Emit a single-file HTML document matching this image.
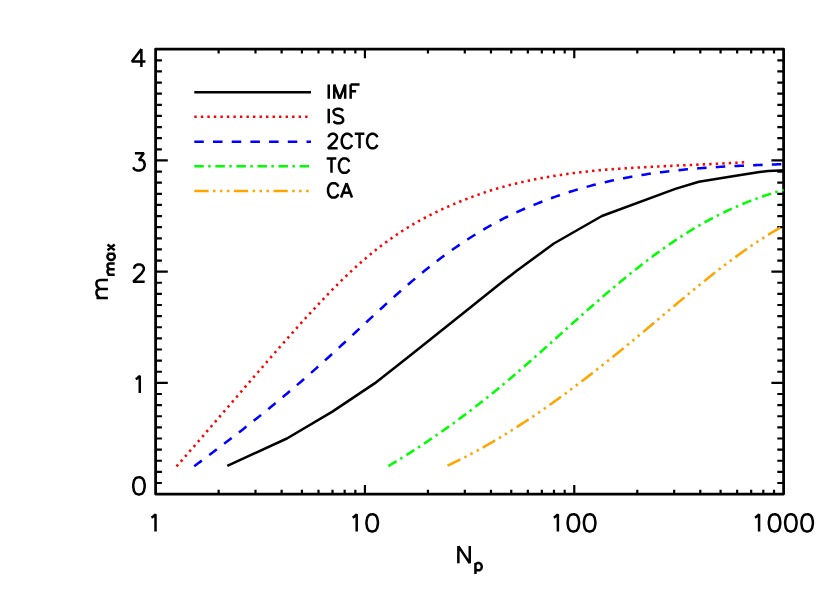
<!DOCTYPE html>
<html><head><meta charset="utf-8"><title>m_max vs N_p</title>
<style>html,body{margin:0;padding:0;background:#fff;}body{width:830px;height:593px;overflow:hidden;font-family:"Liberation Sans",sans-serif;}svg{display:block}</style>
</head><body>
<svg width="830" height="593" viewBox="0 0 830 593">
<rect x="0" y="0" width="830" height="593" fill="#ffffff"/>
<path d="M218.62 494.10V489.70M218.62 49.20V53.60M255.48 494.10V489.70M255.48 49.20V53.60M281.63 494.10V489.70M281.63 49.20V53.60M301.92 494.10V489.70M301.92 49.20V53.60M318.49 494.10V489.70M318.49 49.20V53.60M332.51 494.10V489.70M332.51 49.20V53.60M344.65 494.10V489.70M344.65 49.20V53.60M355.35 494.10V489.70M355.35 49.20V53.60M364.93 494.10V485.10M364.93 49.20V58.20M427.95 494.10V489.70M427.95 49.20V53.60M464.81 494.10V489.70M464.81 49.20V53.60M490.96 494.10V489.70M490.96 49.20V53.60M511.25 494.10V489.70M511.25 49.20V53.60M527.83 494.10V489.70M527.83 49.20V53.60M541.84 494.10V489.70M541.84 49.20V53.60M553.98 494.10V489.70M553.98 49.20V53.60M564.69 494.10V489.70M564.69 49.20V53.60M574.27 494.10V485.10M574.27 49.20V58.20M637.28 494.10V489.70M637.28 49.20V53.60M674.14 494.10V489.70M674.14 49.20V53.60M700.30 494.10V489.70M700.30 49.20V53.60M720.58 494.10V489.70M720.58 49.20V53.60M737.16 494.10V489.70M737.16 49.20V53.60M751.17 494.10V489.70M751.17 49.20V53.60M763.31 494.10V489.70M763.31 49.20V53.60M774.02 494.10V489.70M774.02 49.20V53.60M155.60 482.98H161.90M783.60 482.98H777.30M155.60 471.86H161.90M783.60 471.86H777.30M155.60 460.73H161.90M783.60 460.73H777.30M155.60 449.61H161.90M783.60 449.61H777.30M155.60 438.49H161.90M783.60 438.49H777.30M155.60 427.37H161.90M783.60 427.37H777.30M155.60 416.24H161.90M783.60 416.24H777.30M155.60 405.12H161.90M783.60 405.12H777.30M155.60 394.00H161.90M783.60 394.00H777.30M155.60 382.88H167.80M783.60 382.88H771.40M155.60 371.75H161.90M783.60 371.75H777.30M155.60 360.63H161.90M783.60 360.63H777.30M155.60 349.51H161.90M783.60 349.51H777.30M155.60 338.38H161.90M783.60 338.38H777.30M155.60 327.26H161.90M783.60 327.26H777.30M155.60 316.14H161.90M783.60 316.14H777.30M155.60 305.02H161.90M783.60 305.02H777.30M155.60 293.89H161.90M783.60 293.89H777.30M155.60 282.77H161.90M783.60 282.77H777.30M155.60 271.65H167.80M783.60 271.65H771.40M155.60 260.53H161.90M783.60 260.53H777.30M155.60 249.40H161.90M783.60 249.40H777.30M155.60 238.28H161.90M783.60 238.28H777.30M155.60 227.16H161.90M783.60 227.16H777.30M155.60 216.04H161.90M783.60 216.04H777.30M155.60 204.91H161.90M783.60 204.91H777.30M155.60 193.79H161.90M783.60 193.79H777.30M155.60 182.67H161.90M783.60 182.67H777.30M155.60 171.55H161.90M783.60 171.55H777.30M155.60 160.43H167.80M783.60 160.43H771.40M155.60 149.30H161.90M783.60 149.30H777.30M155.60 138.18H161.90M783.60 138.18H777.30M155.60 127.06H161.90M783.60 127.06H777.30M155.60 115.94H161.90M783.60 115.94H777.30M155.60 104.81H161.90M783.60 104.81H777.30M155.60 93.69H161.90M783.60 93.69H777.30M155.60 82.57H161.90M783.60 82.57H777.30M155.60 71.44H161.90M783.60 71.44H777.30M155.60 60.32H161.90M783.60 60.32H777.30" fill="none" stroke="#000" stroke-width="2.2" stroke-linecap="butt"/>
<rect x="155.6" y="49.2" width="628.00" height="444.90" fill="none" stroke="#000" stroke-width="2.75" stroke-linejoin="round"/>
<path d="M227.30 465.80L286.90 438.50L332.40 411.60L374.60 383.40L405.10 359.50L433.70 336.70L467.50 309.80L501.20 282.80L516.40 271.00L553.90 243.50L601.90 216.00L675.30 188.90L698.90 181.70L734.30 175.90L759.60 172.00L768.10 170.90L779.90 170.40L783.60 170.30" fill="none" stroke="#000" stroke-width="2.55" stroke-linejoin="round" stroke-linecap="butt"/>
<path d="M176.50 466.45L178.40 464.28L180.31 462.10L182.21 459.93L184.11 457.75L186.02 455.57L187.92 453.38L189.82 451.20L191.73 449.01L193.63 446.81L195.53 444.62L197.44 442.42L199.34 440.22L201.24 438.02L203.15 435.82L205.05 433.61L206.95 431.41L208.86 429.20L210.76 426.99L212.66 424.78L214.57 422.57L216.47 420.36L218.37 418.14L220.28 415.93L222.18 413.72L224.08 411.50L225.99 409.29L227.89 407.07L229.79 404.86L231.70 402.64L233.60 400.42L235.50 398.21L237.41 396.00L239.31 393.78L241.21 391.57L243.12 389.36L245.02 387.15L246.92 384.94L248.83 382.73L250.73 380.52L252.63 378.32L254.54 376.11L256.44 373.91L258.34 371.71L260.25 369.51L262.15 367.32L264.05 365.12L265.96 362.93L267.86 360.74L269.76 358.56L271.67 356.38L273.57 354.20L275.47 352.02L277.38 349.85L279.28 347.68L281.18 345.51L283.09 343.35L284.99 341.19L286.89 339.03L288.80 336.88L290.70 334.73L292.60 332.59L294.51 330.45L296.41 328.32L298.31 326.19L300.22 324.07L302.12 321.96L304.02 319.86L305.93 317.76L307.83 315.67L309.73 313.59L311.64 311.51L313.54 309.45L315.44 307.40L317.35 305.36L319.25 303.33L321.15 301.30L323.06 299.30L324.96 297.30L326.86 295.31L328.77 293.34L330.67 291.39L332.57 289.44L334.48 287.51L336.38 285.60L338.28 283.70L340.19 281.81L342.09 279.94L343.99 278.09L345.90 276.26L347.80 274.44L349.70 272.64L351.61 270.86L353.51 269.10L355.41 267.35L357.32 265.63L359.22 263.92L361.12 262.24L363.03 260.58L364.93 258.94L366.83 257.32L368.74 255.72L370.64 254.14L372.54 252.59L374.45 251.05L376.35 249.54L378.25 248.05L380.16 246.58L382.06 245.14L383.96 243.71L385.87 242.30L387.77 240.92L389.67 239.55L391.58 238.20L393.48 236.88L395.38 235.57L397.29 234.29L399.19 233.02L401.09 231.77L403.00 230.55L404.90 229.34L406.80 228.15L408.71 226.98L410.61 225.82L412.51 224.69L414.42 223.58L416.32 222.48L418.22 221.40L420.13 220.34L422.03 219.29L423.93 218.26L425.84 217.25L427.74 216.26L429.64 215.28L431.55 214.32L433.45 213.37L435.35 212.44L437.26 211.53L439.16 210.62L441.06 209.74L442.97 208.86L444.87 208.00L446.77 207.16L448.68 206.32L450.58 205.50L452.48 204.69L454.39 203.89L456.29 203.10L458.19 202.32L460.10 201.55L462.00 200.79L463.91 200.03L465.81 199.29L467.71 198.56L469.62 197.83L471.52 197.12L473.42 196.41L475.33 195.72L477.23 195.03L479.13 194.36L481.04 193.70L482.94 193.04L484.84 192.40L486.75 191.77L488.65 191.15L490.55 190.54L492.46 189.95L494.36 189.36L496.26 188.79L498.17 188.23L500.07 187.68L501.97 187.14L503.88 186.61L505.78 186.09L507.68 185.58L509.59 185.09L511.49 184.60L513.39 184.12L515.30 183.65L517.20 183.20L519.10 182.75L521.01 182.31L522.91 181.88L524.81 181.46L526.72 181.04L528.62 180.64L530.52 180.24L532.43 179.86L534.33 179.48L536.23 179.10L538.14 178.74L540.04 178.38L541.94 178.03L543.85 177.69L545.75 177.35L547.65 177.03L549.56 176.70L551.46 176.39L553.36 176.08L555.27 175.77L557.17 175.47L559.07 175.18L560.98 174.89L562.88 174.61L564.78 174.34L566.69 174.07L568.59 173.80L570.49 173.54L572.40 173.28L574.30 173.03L576.20 172.79L578.11 172.55L580.01 172.32L581.91 172.09L583.82 171.87L585.72 171.65L587.62 171.44L589.53 171.23L591.43 171.03L593.33 170.84L595.24 170.65L597.14 170.47L599.04 170.29L600.95 170.12L602.85 169.95L604.75 169.79L606.66 169.64L608.56 169.49L610.46 169.35L612.37 169.20L614.27 169.07L616.17 168.93L618.08 168.80L619.98 168.67L621.88 168.55L623.79 168.42L625.69 168.30L627.59 168.18L629.50 168.07L631.40 167.95L633.30 167.84L635.21 167.72L637.11 167.61L639.01 167.51L640.92 167.40L642.82 167.29L644.72 167.19L646.63 167.09L648.53 166.99L650.43 166.89L652.34 166.79L654.24 166.69L656.14 166.60L658.05 166.50L659.95 166.41L661.85 166.31L663.76 166.22L665.66 166.13L667.56 166.04L669.47 165.95L671.37 165.86L673.27 165.77L675.18 165.68L677.08 165.60L678.98 165.51L680.89 165.42L682.79 165.34L684.69 165.25L686.60 165.16L688.50 165.08L690.40 164.99L692.31 164.90L694.21 164.82L696.11 164.73L698.02 164.64L699.92 164.56L701.82 164.47L703.73 164.38L705.63 164.29L707.53 164.20L709.44 164.11L711.34 164.02L713.24 163.93L715.15 163.84L717.05 163.75L718.95 163.66L720.86 163.56L722.76 163.47L724.66 163.37L726.57 163.27L728.47 163.17L730.37 163.07L732.28 162.97L734.18 162.87L736.08 162.76L737.99 162.66L739.89 162.55L741.79 162.44L743.70 162.33L745.60 162.22" fill="none" stroke="#ff0000" stroke-width="2.55" stroke-linejoin="round" stroke-linecap="butt" stroke-dasharray="2.4 4.12"/>
<path d="M194.20 466.23L196.17 464.78L198.14 463.33L200.11 461.87L202.08 460.41L204.06 458.95L206.03 457.48L208.00 456.01L209.97 454.53L211.94 453.06L213.91 451.58L215.88 450.09L217.85 448.60L219.83 447.11L221.80 445.61L223.77 444.11L225.74 442.61L227.71 441.10L229.68 439.59L231.65 438.07L233.62 436.55L235.60 435.02L237.57 433.49L239.54 431.96L241.51 430.42L243.48 428.88L245.45 427.33L247.42 425.78L249.39 424.22L251.37 422.66L253.34 421.10L255.31 419.52L257.28 417.95L259.25 416.37L261.22 414.78L263.19 413.19L265.16 411.59L267.14 409.99L269.11 408.39L271.08 406.77L273.05 405.16L275.02 403.53L276.99 401.91L278.96 400.27L280.93 398.63L282.91 396.99L284.88 395.34L286.85 393.68L288.82 392.02L290.79 390.35L292.76 388.68L294.73 387.00L296.70 385.31L298.68 383.62L300.65 381.92L302.62 380.22L304.59 378.51L306.56 376.79L308.53 375.07L310.50 373.34L312.47 371.60L314.45 369.86L316.42 368.11L318.39 366.35L320.36 364.59L322.33 362.82L324.30 361.04L326.27 359.26L328.24 357.47L330.22 355.68L332.19 353.87L334.16 352.07L336.13 350.26L338.10 348.44L340.07 346.62L342.04 344.80L344.01 342.97L345.99 341.14L347.96 339.31L349.93 337.48L351.90 335.64L353.87 333.81L355.84 331.97L357.81 330.14L359.78 328.30L361.76 326.46L363.73 324.63L365.70 322.80L367.67 320.97L369.64 319.14L371.61 317.31L373.58 315.49L375.55 313.67L377.53 311.86L379.50 310.05L381.47 308.25L383.44 306.45L385.41 304.65L387.38 302.87L389.35 301.09L391.32 299.31L393.29 297.55L395.27 295.79L397.24 294.04L399.21 292.30L401.18 290.56L403.15 288.84L405.12 287.13L407.09 285.42L409.06 283.73L411.04 282.05L413.01 280.38L414.98 278.72L416.95 277.07L418.92 275.43L420.89 273.81L422.86 272.20L424.83 270.60L426.81 269.02L428.78 267.45L430.75 265.89L432.72 264.35L434.69 262.82L436.66 261.30L438.63 259.80L440.60 258.32L442.58 256.85L444.55 255.39L446.52 253.95L448.49 252.52L450.46 251.10L452.43 249.70L454.40 248.32L456.37 246.94L458.35 245.59L460.32 244.24L462.29 242.92L464.26 241.60L466.23 240.31L468.20 239.02L470.17 237.75L472.14 236.50L474.12 235.26L476.09 234.04L478.06 232.83L480.03 231.63L482.00 230.45L483.97 229.29L485.94 228.14L487.91 227.01L489.89 225.89L491.86 224.79L493.83 223.70L495.80 222.63L497.77 221.57L499.74 220.53L501.71 219.50L503.68 218.49L505.66 217.50L507.63 216.52L509.60 215.56L511.57 214.61L513.54 213.68L515.51 212.76L517.48 211.86L519.45 210.98L521.43 210.11L523.40 209.25L525.37 208.41L527.34 207.58L529.31 206.75L531.28 205.94L533.25 205.14L535.22 204.35L537.20 203.56L539.17 202.78L541.14 202.01L543.11 201.25L545.08 200.50L547.05 199.75L549.02 199.01L550.99 198.29L552.97 197.57L554.94 196.86L556.91 196.16L558.88 195.48L560.85 194.80L562.82 194.14L564.79 193.48L566.76 192.84L568.74 192.20L570.71 191.57L572.68 190.96L574.65 190.35L576.62 189.76L578.59 189.17L580.56 188.60L582.53 188.03L584.51 187.47L586.48 186.92L588.45 186.38L590.42 185.86L592.39 185.33L594.36 184.82L596.33 184.32L598.30 183.83L600.27 183.34L602.25 182.86L604.22 182.40L606.19 181.94L608.16 181.49L610.13 181.04L612.10 180.61L614.07 180.18L616.04 179.76L618.02 179.35L619.99 178.95L621.96 178.55L623.93 178.17L625.90 177.79L627.87 177.42L629.84 177.05L631.81 176.70L633.79 176.35L635.76 176.00L637.73 175.67L639.70 175.34L641.67 175.02L643.64 174.70L645.61 174.40L647.58 174.09L649.56 173.80L651.53 173.51L653.50 173.23L655.47 172.96L657.44 172.69L659.41 172.42L661.38 172.17L663.35 171.92L665.33 171.67L667.30 171.43L669.27 171.20L671.24 170.97L673.21 170.75L675.18 170.53L677.15 170.32L679.12 170.11L681.10 169.91L683.07 169.71L685.04 169.52L687.01 169.34L688.98 169.15L690.95 168.98L692.92 168.80L694.89 168.64L696.87 168.47L698.84 168.31L700.81 168.16L702.78 168.00L704.75 167.86L706.72 167.71L708.69 167.57L710.66 167.44L712.64 167.31L714.61 167.18L716.58 167.05L718.55 166.93L720.52 166.81L722.49 166.69L724.46 166.58L726.43 166.47L728.41 166.36L730.38 166.26L732.35 166.16L734.32 166.06L736.29 165.96L738.26 165.87L740.23 165.78L742.20 165.69L744.18 165.60L746.15 165.51L748.12 165.43L750.09 165.35L752.06 165.27L754.03 165.19L756.00 165.11L757.97 165.04L759.95 164.96L761.92 164.89L763.89 164.82L765.86 164.75L767.83 164.68L769.80 164.61L771.77 164.54L773.74 164.48L775.72 164.41L777.69 164.34L779.66 164.28L781.63 164.21L783.60 164.15" fill="none" stroke="#0000ff" stroke-width="2.55" stroke-linejoin="round" stroke-linecap="butt" stroke-dasharray="9.5 9.2"/>
<path d="M388.40 466.09L389.72 465.30L391.04 464.51L392.37 463.71L393.69 462.91L395.01 462.11L396.33 461.30L397.65 460.49L398.97 459.68L400.30 458.86L401.62 458.04L402.94 457.22L404.26 456.39L405.58 455.56L406.90 454.73L408.23 453.89L409.55 453.05L410.87 452.21L412.19 451.36L413.51 450.51L414.83 449.66L416.16 448.80L417.48 447.94L418.80 447.08L420.12 446.22L421.44 445.35L422.77 444.47L424.09 443.59L425.41 442.71L426.73 441.83L428.05 440.94L429.37 440.05L430.70 439.16L432.02 438.26L433.34 437.36L434.66 436.45L435.98 435.55L437.30 434.63L438.63 433.72L439.95 432.80L441.27 431.88L442.59 430.95L443.91 430.02L445.23 429.09L446.56 428.15L447.88 427.21L449.20 426.27L450.52 425.32L451.84 424.37L453.17 423.41L454.49 422.45L455.81 421.49L457.13 420.53L458.45 419.56L459.77 418.58L461.10 417.61L462.42 416.62L463.74 415.64L465.06 414.65L466.38 413.66L467.70 412.66L469.03 411.66L470.35 410.66L471.67 409.65L472.99 408.64L474.31 407.63L475.63 406.61L476.96 405.59L478.28 404.56L479.60 403.53L480.92 402.50L482.24 401.46L483.57 400.42L484.89 399.37L486.21 398.32L487.53 397.27L488.85 396.21L490.17 395.15L491.50 394.09L492.82 393.02L494.14 391.94L495.46 390.87L496.78 389.79L498.10 388.70L499.43 387.61L500.75 386.52L502.07 385.42L503.39 384.32L504.71 383.22L506.03 382.11L507.36 380.99L508.68 379.88L510.00 378.76L511.32 377.63L512.64 376.51L513.97 375.38L515.29 374.24L516.61 373.11L517.93 371.97L519.25 370.82L520.57 369.68L521.90 368.53L523.22 367.38L524.54 366.22L525.86 365.07L527.18 363.91L528.50 362.75L529.83 361.58L531.15 360.42L532.47 359.25L533.79 358.08L535.11 356.91L536.43 355.73L537.76 354.56L539.08 353.38L540.40 352.20L541.72 351.03L543.04 349.84L544.37 348.66L545.69 347.48L547.01 346.30L548.33 345.11L549.65 343.93L550.97 342.74L552.30 341.55L553.62 340.36L554.94 339.18L556.26 337.99L557.58 336.80L558.90 335.61L560.23 334.42L561.55 333.23L562.87 332.05L564.19 330.86L565.51 329.67L566.83 328.48L568.16 327.29L569.48 326.11L570.80 324.92L572.12 323.74L573.44 322.55L574.77 321.37L576.09 320.19L577.41 319.01L578.73 317.83L580.05 316.65L581.37 315.47L582.70 314.30L584.02 313.12L585.34 311.95L586.66 310.78L587.98 309.62L589.30 308.45L590.63 307.29L591.95 306.12L593.27 304.96L594.59 303.81L595.91 302.65L597.23 301.50L598.56 300.35L599.88 299.21L601.20 298.06L602.52 296.92L603.84 295.79L605.17 294.65L606.49 293.52L607.81 292.39L609.13 291.27L610.45 290.14L611.77 289.03L613.10 287.91L614.42 286.80L615.74 285.69L617.06 284.59L618.38 283.49L619.70 282.39L621.03 281.29L622.35 280.20L623.67 279.12L624.99 278.04L626.31 276.96L627.63 275.88L628.96 274.81L630.28 273.75L631.60 272.69L632.92 271.63L634.24 270.58L635.57 269.53L636.89 268.48L638.21 267.45L639.53 266.41L640.85 265.38L642.17 264.35L643.50 263.33L644.82 262.32L646.14 261.31L647.46 260.30L648.78 259.30L650.10 258.30L651.43 257.31L652.75 256.33L654.07 255.35L655.39 254.37L656.71 253.40L658.03 252.44L659.36 251.48L660.68 250.53L662.00 249.58L663.32 248.64L664.64 247.70L665.97 246.77L667.29 245.85L668.61 244.93L669.93 244.02L671.25 243.11L672.57 242.21L673.90 241.32L675.22 240.43L676.54 239.55L677.86 238.67L679.18 237.80L680.50 236.94L681.83 236.08L683.15 235.23L684.47 234.39L685.79 233.56L687.11 232.73L688.43 231.90L689.76 231.09L691.08 230.28L692.40 229.48L693.72 228.69L695.04 227.90L696.37 227.12L697.69 226.34L699.01 225.58L700.33 224.82L701.65 224.06L702.97 223.32L704.30 222.58L705.62 221.84L706.94 221.12L708.26 220.40L709.58 219.69L710.90 218.98L712.23 218.28L713.55 217.59L714.87 216.90L716.19 216.22L717.51 215.55L718.83 214.88L720.16 214.22L721.48 213.57L722.80 212.92L724.12 212.28L725.44 211.65L726.77 211.02L728.09 210.40L729.41 209.79L730.73 209.18L732.05 208.58L733.37 207.98L734.70 207.40L736.02 206.81L737.34 206.24L738.66 205.67L739.98 205.10L741.30 204.55L742.63 204.00L743.95 203.45L745.27 202.91L746.59 202.38L747.91 201.86L749.23 201.34L750.56 200.82L751.88 200.31L753.20 199.81L754.52 199.32L755.84 198.83L757.17 198.35L758.49 197.87L759.81 197.40L761.13 196.93L762.45 196.47L763.77 196.02L765.10 195.57L766.42 195.13L767.74 194.70L769.06 194.27L770.38 193.84L771.70 193.42L773.03 193.01L774.35 192.61L775.67 192.21L776.99 191.81L778.31 191.42L779.63 191.04L780.96 190.66L782.28 190.29L783.60 189.93" fill="none" stroke="#00ff00" stroke-width="2.55" stroke-linejoin="round" stroke-linecap="butt" stroke-dasharray="9.5 4.4 2.5 4.65"/>
<path d="M447.50 465.63L448.62 465.11L449.75 464.58L450.87 464.05L452.00 463.51L453.12 462.98L454.24 462.43L455.37 461.89L456.49 461.34L457.62 460.79L458.74 460.23L459.86 459.67L460.99 459.11L462.11 458.55L463.24 457.98L464.36 457.40L465.49 456.83L466.61 456.25L467.73 455.66L468.86 455.08L469.98 454.49L471.11 453.89L472.23 453.30L473.35 452.70L474.48 452.09L475.60 451.49L476.73 450.88L477.85 450.26L478.97 449.64L480.10 449.02L481.22 448.40L482.35 447.77L483.47 447.15L484.59 446.51L485.72 445.88L486.84 445.24L487.97 444.59L489.09 443.95L490.22 443.30L491.34 442.65L492.46 441.99L493.59 441.34L494.71 440.67L495.84 440.01L496.96 439.34L498.08 438.67L499.21 438.00L500.33 437.32L501.46 436.64L502.58 435.96L503.70 435.28L504.83 434.59L505.95 433.90L507.08 433.20L508.20 432.51L509.32 431.81L510.45 431.10L511.57 430.40L512.70 429.69L513.82 428.98L514.94 428.26L516.07 427.55L517.19 426.83L518.32 426.11L519.44 425.38L520.57 424.65L521.69 423.92L522.81 423.19L523.94 422.45L525.06 421.71L526.19 420.97L527.31 420.23L528.43 419.48L529.56 418.73L530.68 417.98L531.81 417.23L532.93 416.47L534.05 415.71L535.18 414.95L536.30 414.18L537.43 413.41L538.55 412.64L539.67 411.87L540.80 411.10L541.92 410.32L543.05 409.54L544.17 408.76L545.29 407.97L546.42 407.19L547.54 406.40L548.67 405.61L549.79 404.81L550.92 404.01L552.04 403.22L553.16 402.41L554.29 401.61L555.41 400.81L556.54 400.00L557.66 399.19L558.78 398.37L559.91 397.56L561.03 396.74L562.16 395.92L563.28 395.10L564.40 394.28L565.53 393.45L566.65 392.62L567.78 391.79L568.90 390.96L570.02 390.13L571.15 389.29L572.27 388.45L573.40 387.61L574.52 386.77L575.65 385.92L576.77 385.08L577.89 384.23L579.02 383.38L580.14 382.52L581.27 381.67L582.39 380.81L583.51 379.95L584.64 379.09L585.76 378.23L586.89 377.37L588.01 376.50L589.13 375.63L590.26 374.76L591.38 373.89L592.51 373.02L593.63 372.14L594.75 371.27L595.88 370.39L597.00 369.51L598.13 368.62L599.25 367.74L600.37 366.85L601.50 365.97L602.62 365.08L603.75 364.19L604.87 363.29L606.00 362.40L607.12 361.50L608.24 360.60L609.37 359.71L610.49 358.80L611.62 357.90L612.74 357.00L613.86 356.09L614.99 355.19L616.11 354.28L617.24 353.37L618.36 352.46L619.48 351.54L620.61 350.63L621.73 349.71L622.86 348.79L623.98 347.88L625.10 346.96L626.23 346.03L627.35 345.11L628.48 344.19L629.60 343.26L630.73 342.33L631.85 341.41L632.97 340.48L634.10 339.54L635.22 338.61L636.35 337.68L637.47 336.74L638.59 335.81L639.72 334.87L640.84 333.93L641.97 333.00L643.09 332.06L644.21 331.12L645.34 330.18L646.46 329.23L647.59 328.29L648.71 327.35L649.83 326.40L650.96 325.46L652.08 324.52L653.21 323.57L654.33 322.63L655.45 321.68L656.58 320.73L657.70 319.79L658.83 318.84L659.95 317.90L661.08 316.95L662.20 316.00L663.32 315.06L664.45 314.11L665.57 313.17L666.70 312.22L667.82 311.28L668.94 310.33L670.07 309.39L671.19 308.44L672.32 307.50L673.44 306.56L674.56 305.61L675.69 304.67L676.81 303.73L677.94 302.79L679.06 301.85L680.18 300.92L681.31 299.98L682.43 299.04L683.56 298.11L684.68 297.17L685.81 296.24L686.93 295.31L688.05 294.38L689.18 293.45L690.30 292.52L691.43 291.60L692.55 290.67L693.67 289.75L694.80 288.83L695.92 287.91L697.05 286.99L698.17 286.08L699.29 285.16L700.42 284.25L701.54 283.34L702.67 282.43L703.79 281.52L704.91 280.62L706.04 279.72L707.16 278.82L708.29 277.92L709.41 277.03L710.53 276.13L711.66 275.24L712.78 274.35L713.91 273.47L715.03 272.59L716.16 271.71L717.28 270.83L718.40 269.95L719.53 269.08L720.65 268.21L721.78 267.35L722.90 266.48L724.02 265.62L725.15 264.77L726.27 263.91L727.40 263.06L728.52 262.22L729.64 261.37L730.77 260.53L731.89 259.69L733.02 258.86L734.14 258.03L735.26 257.20L736.39 256.38L737.51 255.56L738.64 254.75L739.76 253.93L740.88 253.13L742.01 252.32L743.13 251.52L744.26 250.73L745.38 249.93L746.51 249.15L747.63 248.36L748.75 247.58L749.88 246.81L751.00 246.04L752.13 245.27L753.25 244.51L754.37 243.75L755.50 243.00L756.62 242.25L757.75 241.50L758.87 240.77L759.99 240.03L761.12 239.30L762.24 238.58L763.37 237.86L764.49 237.14L765.61 236.43L766.74 235.73L767.86 235.03L768.99 234.34L770.11 233.65L771.24 232.96L772.36 232.28L773.48 231.61L774.61 230.94L775.73 230.28L776.86 229.63L777.98 228.98L779.10 228.33L780.23 227.69L781.35 227.06L782.48 226.43L783.60 225.81" fill="none" stroke="#ffa500" stroke-width="2.55" stroke-linejoin="round" stroke-linecap="butt" stroke-dasharray="14.3 4.4 2.5 4.4 2.5 4.5 2.5 4.5"/>
<path d="M194.30 92.25L311.00 92.25" fill="none" stroke="#000" stroke-width="2.55" stroke-linejoin="round" stroke-linecap="butt"/>
<path d="M194.30 116.70L311.00 116.70" fill="none" stroke="#ff0000" stroke-width="2.55" stroke-linejoin="round" stroke-linecap="butt" stroke-dasharray="2.4 4.12"/>
<path d="M194.30 141.70L311.00 141.70" fill="none" stroke="#0000ff" stroke-width="2.55" stroke-linejoin="round" stroke-linecap="butt" stroke-dasharray="9.5 9.2"/>
<path d="M194.30 166.30L311.00 166.30" fill="none" stroke="#00ff00" stroke-width="2.55" stroke-linejoin="round" stroke-linecap="butt" stroke-dasharray="9.5 4.4 2.5 4.65"/>
<path d="M194.30 191.00L311.00 191.00" fill="none" stroke="#ffa500" stroke-width="2.55" stroke-linejoin="round" stroke-linecap="butt" stroke-dasharray="14.3 4.4 2.5 4.4 2.5 4.5 2.5 4.5"/>
<path d="M328.74 84.41L328.74 98.80M334.22 84.41L334.22 98.80M334.22 84.41L339.70 98.80M345.18 84.41L339.70 98.80M345.18 84.41L345.18 98.80M350.66 84.41L350.66 98.80M350.66 84.41L359.56 84.41M350.66 91.27L356.14 91.27M328.74 108.86L328.74 123.25M343.12 110.92L341.75 109.55L339.70 108.86L336.96 108.86L334.90 109.55L333.54 110.92L333.54 112.29L334.22 113.66L334.90 114.34L336.27 115.03L340.38 116.40L341.75 117.08L342.44 117.77L343.12 119.14L343.12 121.19L341.75 122.56L339.70 123.25L336.96 123.25L334.90 122.56L333.54 121.19M328.74 137.29L328.74 136.60L329.43 135.24L330.11 134.55L331.48 133.87L334.22 133.87L335.59 134.55L336.27 135.24L336.96 136.60L336.96 137.97L336.27 139.34L334.90 141.40L328.06 148.25L337.64 148.25M352.03 137.29L351.35 135.92L349.98 134.55L348.61 133.87L345.87 133.87L344.50 134.55L343.12 135.92L342.44 137.29L341.75 139.34L341.75 142.77L342.44 144.82L343.12 146.19L344.50 147.56L345.87 148.25L348.61 148.25L349.98 147.56L351.35 146.19L352.03 144.82M359.56 133.87L359.56 148.25M354.77 133.87L364.36 133.87M377.38 137.29L376.69 135.92L375.32 134.55L373.95 133.87L371.21 133.87L369.84 134.55L368.47 135.92L367.79 137.29L367.10 139.34L367.10 142.77L367.79 144.82L368.47 146.19L369.84 147.56L371.21 148.25L373.95 148.25L375.32 147.56L376.69 146.19L377.38 144.82M331.48 158.47L331.48 172.85M326.69 158.47L336.27 158.47M349.29 161.89L348.61 160.52L347.24 159.15L345.87 158.47L343.12 158.47L341.75 159.15L340.38 160.52L339.70 161.89L339.01 163.94L339.01 167.37L339.70 169.42L340.38 170.79L341.75 172.16L343.12 172.85L345.87 172.85L347.24 172.16L348.61 170.79L349.29 169.42M338.33 186.59L337.64 185.22L336.27 183.85L334.90 183.17L332.17 183.17L330.80 183.85L329.43 185.22L328.74 186.59L328.06 188.65L328.06 192.07L328.74 194.12L329.43 195.50L330.80 196.87L332.17 197.55L334.90 197.55L336.27 196.87L337.64 195.50L338.33 194.12M346.55 183.17L341.07 197.55M346.55 183.17L352.03 197.55M343.12 192.76L349.98 192.76M151.44 517.54L153.07 516.73L155.51 514.28L155.51 531.40M352.62 517.54L354.25 516.73L356.70 514.28L356.70 531.40M371.37 514.28L368.92 515.10L367.29 517.54L366.48 521.62L366.48 524.06L367.29 528.14L368.92 530.58L371.37 531.40L373.00 531.40L375.44 530.58L377.07 528.14L377.89 524.06L377.89 521.62L377.07 517.54L375.44 515.10L373.00 514.28L371.37 514.28M553.81 517.54L555.44 516.73L557.88 514.28L557.88 531.40M572.55 514.28L570.11 515.10L568.48 517.54L567.66 521.62L567.66 524.06L568.48 528.14L570.11 530.58L572.55 531.40L574.18 531.40L576.63 530.58L578.26 528.14L579.07 524.06L579.07 521.62L578.26 517.54L576.63 515.10L574.18 514.28L572.55 514.28M588.85 514.28L586.41 515.10L584.78 517.54L583.96 521.62L583.96 524.06L584.78 528.14L586.41 530.58L588.85 531.40L590.48 531.40L592.93 530.58L594.56 528.14L595.37 524.06L595.37 521.62L594.56 517.54L592.93 515.10L590.48 514.28L588.85 514.28M754.99 517.54L756.62 516.73L759.07 514.28L759.07 531.40M773.74 514.28L771.29 515.10L769.66 517.54L768.85 521.62L768.85 524.06L769.66 528.14L771.29 530.58L773.74 531.40L775.37 531.40L777.81 530.58L779.44 528.14L780.25 524.06L780.25 521.62L779.44 517.54L777.81 515.10L775.37 514.28L773.74 514.28M790.03 514.28L787.59 515.10L785.96 517.54L785.14 521.62L785.14 524.06L785.96 528.14L787.59 530.58L790.03 531.40L791.66 531.40L794.11 530.58L795.74 528.14L796.56 524.06L796.56 521.62L795.74 517.54L794.11 515.10L791.66 514.28L790.03 514.28M806.34 514.28L803.89 515.10L802.26 517.54L801.45 521.62L801.45 524.06L802.26 528.14L803.89 530.58L806.34 531.40L807.97 531.40L810.41 530.58L812.04 528.14L812.86 524.06L812.86 521.62L812.04 517.54L810.41 515.10L807.97 514.28L806.34 514.28M138.14 477.29L135.69 478.10L134.06 480.55L133.25 484.62L133.25 487.07L134.06 491.14L135.69 493.59L138.14 494.40L139.77 494.40L142.21 493.59L143.84 491.14L144.66 487.07L144.66 484.62L143.84 480.55L142.21 478.10L139.77 477.29L138.14 477.29M135.69 379.08L137.32 378.26L139.77 375.82L139.77 392.93M134.06 268.67L134.06 267.85L134.88 266.22L135.69 265.41L137.32 264.59L140.58 264.59L142.21 265.41L143.03 266.22L143.84 267.85L143.84 269.48L143.03 271.11L141.40 273.56L133.25 281.71L144.66 281.71M134.88 153.37L143.84 153.37L138.95 159.89L141.40 159.89L143.03 160.70L143.84 161.52L144.66 163.96L144.66 165.59L143.84 168.04L142.21 169.67L139.77 170.48L137.32 170.48L134.88 169.67L134.06 168.85L133.25 167.22M141.40 48.93L131.94 61.40L145.47 61.40M141.40 48.93L141.40 67.10M458.36 546.09L458.36 563.20M458.36 546.09L469.77 563.20M469.77 546.09L469.77 563.20M475.44 562.97L475.44 574.04M475.44 564.55L476.49 563.50L477.55 562.97L479.13 562.97L480.18 563.50L481.23 564.55L481.76 566.13L481.76 567.19L481.23 568.77L480.18 569.82L479.13 570.35L477.55 570.35L476.49 569.82L475.44 568.77M96.49 298.04L107.90 298.04M99.75 298.04L97.31 295.60L96.49 293.97L96.49 291.52L97.31 289.89L99.75 289.07L107.90 289.07M99.75 289.07L97.31 286.63L96.49 285.00L96.49 282.56L97.31 280.93L99.75 280.11L107.90 280.11M107.53 274.80L114.70 274.80M109.58 274.80L108.04 273.27L107.53 272.24L107.53 270.71L108.04 269.68L109.58 269.17L114.70 269.17M109.58 269.17L108.04 267.63L107.53 266.61L107.53 265.07L108.04 264.05L109.58 263.54L114.70 263.54M107.53 253.81L114.70 253.81M109.07 253.81L108.04 254.83L107.53 255.86L107.53 257.39L108.04 258.42L109.07 259.44L110.60 259.95L111.63 259.95L113.16 259.44L114.19 258.42L114.70 257.39L114.70 255.86L114.19 254.83L113.16 253.81M107.53 250.23L114.70 244.59M107.53 244.59L114.70 250.23" fill="none" stroke="#000" stroke-width="2.5" stroke-linejoin="bevel" stroke-linecap="butt"/>
</svg>
</body></html>
